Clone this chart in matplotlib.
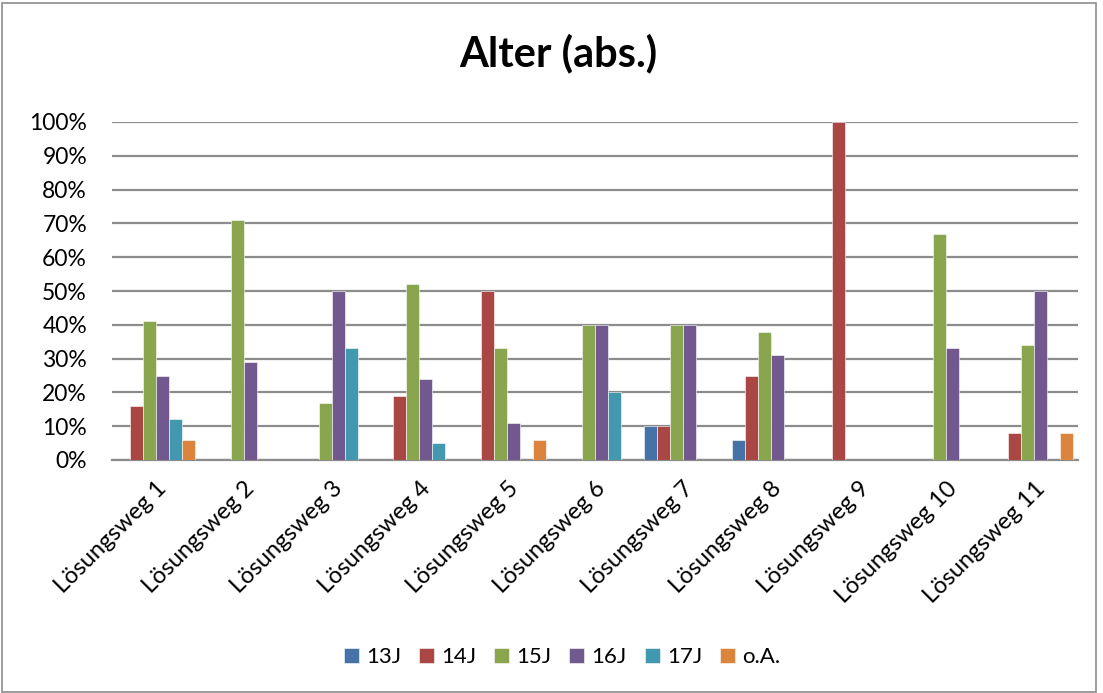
import numpy as np
import matplotlib.pyplot as plt
from matplotlib.patches import Rectangle

plt.rcParams['font.family'] = ['Lato', 'DejaVu Sans']

# Kategorien und Anteile (in %)
kategorien = ["Lösungsweg %d" % i for i in range(1, 12)]
serien = ["13J", "14J", "15J", "16J", "17J", "o.A."]
farben = ["#4572A7", "#AA4643", "#89A54E", "#71588F", "#4198AF", "#DB843D"]

j13 = [0, 0, 0, 0, 0, 0, 10, 6, 0, 0, 0]
j14 = [16, 0, 0, 19, 50, 0, 10, 25, 100, 0, 8]
j15 = [41, 71, 17, 52, 33, 40, 40, 38, 0, 67, 34]
j16 = [25, 29, 50, 24, 11, 40, 40, 31, 0, 33, 50]
j17 = [12, 0, 33, 5, 0, 20, 0, 0, 0, 0, 0]
oa = [6, 0, 0, 0, 6, 0, 0, 0, 0, 0, 8]
werte = [j13, j14, j15, j16, j17, oa]

fig = plt.figure(figsize=(11.03, 6.93), dpi=100)
ax = fig.add_axes([112 / 1103, 1 - 460 / 693, (1078 - 112) / 1103, (460 - 122) / 693])

x = np.arange(len(kategorien))
breite = 0.148
for i, (name, farbe, v) in enumerate(zip(serien, farben, werte)):
    pos = x - 3 * breite + (i + 0.5) * breite
    ax.bar(pos, v, width=breite, color=farbe, label=name,
           edgecolor="white", linewidth=0.4, zorder=3)

ax.set_xlim(-0.5, len(kategorien) - 0.5)
ax.set_ylim(0, 100)
ax.set_yticks(np.arange(0, 101, 10))
ax.set_yticklabels(["%d%%" % t for t in range(0, 101, 10)], fontsize=16.5)
ax.yaxis.grid(True, color="#8c8c8c", linewidth=1.6, zorder=0)
ax.set_axisbelow(True)
for s in ["top", "right", "left"]:
    ax.spines[s].set_visible(False)
ax.spines["bottom"].set_color("#8c8c8c")
ax.spines["bottom"].set_linewidth(1.6)
ax.tick_params(axis="y", length=0, pad=18)
ax.tick_params(axis="x", length=0, pad=13)
ax.set_xticks(x)
ax.set_xticklabels(kategorien, rotation=45, ha="right", rotation_mode="anchor", fontsize=17)

fig.text(558 / 1103, 1 - 66 / 693, "Alter (abs.)", ha="center", va="baseline",
         fontsize=30, fontweight="bold")

leg = fig.legend(loc="center", bbox_to_anchor=(562 / 1103, 1 - 657 / 693), ncol=6,
                 frameon=False, fontsize=16, handlelength=0.68, handleheight=0.68,
                 handletextpad=0.32, columnspacing=0.8)

# Rahmen um die Grafik
fig.patches.append(Rectangle((0.002, 0.002), 0.992, 0.994, transform=fig.transFigure,
                             fill=False, edgecolor="#8c8c8c", linewidth=1.2))

fig.savefig("out.png", dpi=100)
